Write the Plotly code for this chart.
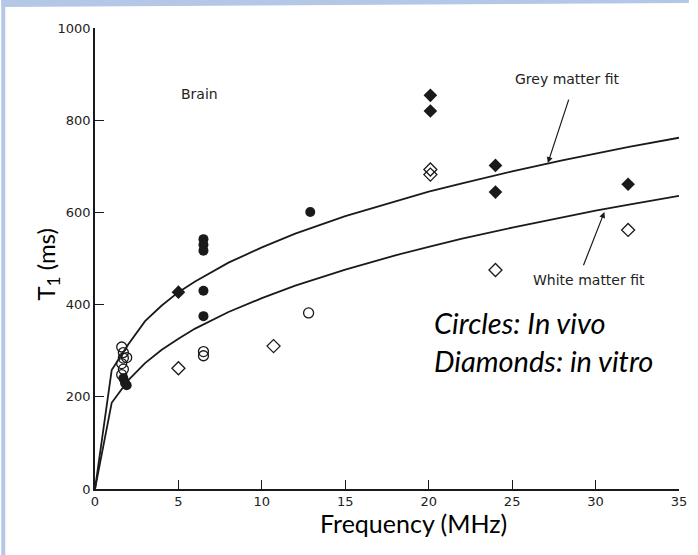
import plotly.graph_objects as go

# ---- data ----
# fitted curves (sampled read-offs)
fit_freq = [0, 1, 2, 3, 4, 5, 6, 8, 10, 12, 15, 18, 20, 22, 25, 28, 30, 32, 35]
grey_fit = [0, 258, 314, 364, 398, 427, 450, 491, 524, 554, 592, 624, 645, 663, 689, 713, 728, 742, 762]
white_fit = [0, 187, 236, 273, 302, 326, 348, 384, 414, 441, 476, 507, 525, 543, 567, 590, 604, 617, 636]

# in vivo (circles)
vivo_open_x = [1.6, 1.7, 1.7, 1.6, 1.7, 1.6, 1.9, 6.5, 6.5, 12.8]
vivo_open_y = [308, 296, 284, 272, 260, 248, 285, 298, 289, 382]
vivo_fill_x = [1.7, 1.8, 1.9, 6.5, 6.5, 6.5, 6.5, 6.5, 12.9]
vivo_fill_y = [240, 230, 225, 542, 530, 517, 430, 375, 601]

# in vitro (diamonds)
vitro_open_x = [5.0, 10.7, 20.1, 20.1, 24.0, 31.95]
vitro_open_y = [262, 310, 693, 682, 475, 562]
vitro_fill_x = [5.0, 20.1, 20.1, 24.0, 24.0, 31.95]
vitro_fill_y = [427, 854, 820, 702, 644, 661]

x_ticks = [0, 5, 10, 15, 20, 25, 30, 35]
y_ticks = [0, 200, 400, 600, 800, 1000]

INK = "#1a1a1a"
SCAN_FONT = "DejaVu Sans"
PPT_FONT = "Lato"

# plot-area geometry (pixels) used to place frame decorations in paper units
L, R, T, B = 95, 687, 28, 489
W_PA, H_PA = R - L, B - T


def px(xp):
    return (xp - L) / W_PA


def py(yp):
    return (B - yp) / H_PA


fig = go.Figure()

for y in (grey_fit, white_fit):
    fig.add_trace(go.Scatter(x=fit_freq, y=y, mode="lines",
                             line=dict(color=INK, width=1.8), showlegend=False))

fig.add_trace(go.Scatter(x=vivo_open_x, y=vivo_open_y, mode="markers", showlegend=False,
                         marker=dict(symbol="circle-open", size=10, color=INK, line=dict(width=1.3))))
fig.add_trace(go.Scatter(x=vivo_fill_x, y=vivo_fill_y, mode="markers", showlegend=False,
                         marker=dict(symbol="circle", size=10, color=INK)))
fig.add_trace(go.Scatter(x=vitro_open_x, y=vitro_open_y, mode="markers", showlegend=False,
                         marker=dict(symbol="diamond-open", size=10, color=INK, line=dict(width=1.3))))
fig.add_trace(go.Scatter(x=vitro_fill_x, y=vitro_fill_y, mode="markers", showlegend=False,
                         marker=dict(symbol="diamond", size=10.5, color=INK)))

ann = []
ann.append(dict(x=6.27, y=857, text="Brain", showarrow=False, xref="x", yref="y",
                font=dict(family=SCAN_FONT, size=14, color="#222")))
ann.append(dict(x=28.26, y=889, text="Grey matter fit", showarrow=False, xref="x", yref="y",
                font=dict(family=SCAN_FONT, size=14, color="#222")))
ann.append(dict(x=29.62, y=453, text="White matter fit", showarrow=False, xref="x", yref="y",
                font=dict(family=SCAN_FONT, size=14, color="#222")))
# arrows
ann.append(dict(x=27.14, y=707, ax=28.42, ay=848, xref="x", yref="y", axref="x", ayref="y",
                text="", showarrow=True, arrowhead=2, arrowsize=1, arrowwidth=1.2,
                arrowcolor=INK, standoff=0, startstandoff=0))
ann.append(dict(x=30.53, y=601, ax=29.24, ay=482, xref="x", yref="y", axref="x", ayref="y",
                text="", showarrow=True, arrowhead=2, arrowsize=1, arrowwidth=1.2,
                arrowcolor=INK, standoff=0, startstandoff=0))
ann.append(dict(x=20.22, y=(B - 322) / H_PA * 1000, text="<i>Circles: In vivo</i>", showarrow=False,
                xref="x", yref="y", xanchor="left",
                font=dict(family=PPT_FONT, size=29, color="#000")))
ann.append(dict(x=20.22, y=(B - 360) / H_PA * 1000, text="<i>Diamonds: in vitro</i>", showarrow=False,
                xref="x", yref="y", xanchor="left",
                font=dict(family=PPT_FONT, size=29, color="#000")))
# axis titles
ann.append(dict(x=px(418), y=py(540), xref="paper", yref="paper",
                text="Frequency (MHz)", showarrow=False,
                font=dict(family=PPT_FONT, size=25, color="#000")))
ann.append(dict(x=px(28), y=py(264), xref="paper", yref="paper",
                text="T<sub>1</sub> (ms)", showarrow=False, textangle=-90,
                font=dict(family=PPT_FONT, size=24, color="#000")))

BLUE = "#B4C7E7"
shapes = [
    dict(type="rect", xref="paper", yref="paper", x0=px(0), x1=px(4),
         y0=py(555), y1=py(0), fillcolor=BLUE, line=dict(width=0), layer="below"),
    dict(type="path", xref="paper", yref="paper",
         path=(f"M {px(0)},{py(0)} L {px(697)},{py(0)} L {px(697)},{py(3)} "
               f"L {px(0)},{py(7)} Z"),
         fillcolor=BLUE, line=dict(width=0), layer="below"),
]

fig.update_layout(
    width=698, height=555,
    margin=dict(l=L, r=698 - R, t=T, b=555 - B),
    paper_bgcolor="white", plot_bgcolor="white",
    annotations=ann, shapes=shapes,
    xaxis=dict(range=[0, 35], tickvals=x_ticks, ticks="inside", ticklen=9, tickwidth=1.3,
               tickcolor=INK, showline=True, linecolor=INK, linewidth=1.6, showgrid=False,
               zeroline=False, tickfont=dict(family=SCAN_FONT, size=13, color="#222")),
    yaxis=dict(range=[0, 1000], tickvals=y_ticks, ticks="inside", ticklen=9, tickwidth=1.3,
               tickcolor=INK, showline=True, linecolor=INK, linewidth=1.6, showgrid=False,
               zeroline=False, tickfont=dict(family=SCAN_FONT, size=13, color="#222")),
)

fig.write_html("out.html")
